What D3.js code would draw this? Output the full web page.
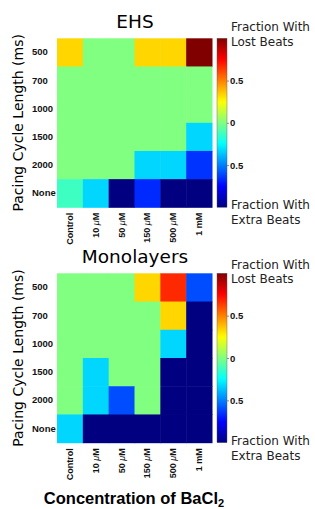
<!DOCTYPE html>
<html><head><meta charset="utf-8">
<script src="https://cdn.jsdelivr.net/npm/d3@7"></script>
<style>
html,body{margin:0;padding:0;background:#fff;}
svg{display:block;}
</style></head>
<body>
<svg id="c" width="315" height="509"></svg>
<script>
// ---- data ----
const concentrations = ["Control", "10 \u03bcM", "50 \u03bcM", "150 \u03bcM", "500 \u03bcM", "1 mM"];
const pacingCycles = ["500", "700", "1000", "1500", "2000", "None"];
// signed fraction: + = fraction with lost beats, - = fraction with extra beats
const ehsValues = [
  [0.33, 0, 0, 0.33, 0.33, 1.0],
  [0, 0, 0, 0, 0, 0],
  [0, 0, 0, 0, 0, 0],
  [0, 0, 0, 0, 0, -0.33],
  [0, 0, 0, -0.33, -0.33, -0.65],
  [-0.13, -0.33, -1.0, -0.67, -1.0, -1.0]
];
const monolayerValues = [
  [0, 0, 0, 0.33, 0.67, -0.6],
  [0, 0, 0, 0, 0.33, -1.0],
  [0, 0, 0, 0, -0.33, -1.0],
  [0, -0.33, 0, 0, -1.0, -1.0],
  [0, -0.33, -0.6, 0, -1.0, -1.0],
  [-0.33, -1.0, -1.0, -1.0, -1.0, -1.0]
];
const colorbarTicks = [0.5, 0, -0.5];
const colorbarTickLabels = ["0.5", "0", "0.5"];
const panelTitles = ["EHS", "Monolayers"];

// ---- jet colormap ----
function jet(t){
  const c = v => Math.max(0, Math.min(1, v));
  const r = c(1.5 - Math.abs(4*t - 3));
  const g = c(1.5 - Math.abs(4*t - 2));
  const b = c(1.5 - Math.abs(4*t - 1));
  return d3.rgb(r*255, g*255, b*255).formatHex();
}
const tScale = d3.scaleLinear().domain([-1, 1]).range([0, 1]).clamp(true);
const color = v => jet(tScale(v));

const svg = d3.select("#c");
const left = 57, width = 155;
const panels = [
  {title: panelTitles[0], values: ehsValues, top: 38.3, bottom: 207.3, titleY: 28,
   legTop: [30.7, 45.7], legBot: [209.3, 224]},
  {title: panelTitles[1], values: monolayerValues, top: 273.3, bottom: 442.7, titleY: 263.3,
   legTop: [269.3, 283.3], legBot: [445, 460]}
];

const defs = svg.append("defs");
const grad = defs.append("linearGradient").attr("id","jetgrad")
  .attr("x1",0).attr("y1",0).attr("x2",0).attr("y2",1);
d3.range(0, 1.0001, 0.02).forEach(s => {
  grad.append("stop").attr("offset", s).attr("stop-color", jet(1 - s));
});

const x = d3.scaleBand().domain(concentrations).range([left, left + width]);

panels.forEach(p => {
  const y = d3.scaleBand().domain(pacingCycles).range([p.top, p.bottom]);
  const g = svg.append("g");
  // cells
  p.values.forEach((row, i) => {
    g.selectAll(null).data(row).enter().append("rect")
      .attr("x", (d, j) => x(concentrations[j]))
      .attr("y", y(pacingCycles[i]))
      .attr("width", x.bandwidth() + 0.5)
      .attr("height", y.bandwidth() + 0.5)
      .attr("fill", d => color(d));
  });
  // title
  svg.append("text").attr("x", 135).attr("y", p.titleY)
    .attr("text-anchor","middle")
    .style("font-family","DejaVu Sans").style("font-size","18.5px")
    .text(p.title);
  // y axis
  const ya = svg.append("g").attr("transform",`translate(${left},0)`)
    .call(d3.axisLeft(y).tickSize(0));
  ya.select(".domain").remove();
  ya.selectAll("text").attr("x", 32 - left).attr("text-anchor","start")
    .style("font-family","Liberation Sans").style("font-weight","bold")
    .style("font-size","9.5px").attr("fill","#111");
  // y label
  const cy = (p.top + p.bottom) / 2;
  svg.append("text").attr("transform",`translate(23,${cy}) rotate(-90)`)
    .attr("text-anchor","middle")
    .style("font-family","DejaVu Sans").style("font-size","14px")
    .text("Pacing Cycle Length (ms)");
  // x axis
  const xa = svg.append("g").attr("transform",`translate(0,${p.bottom})`)
    .call(d3.axisBottom(x).tickSize(0));
  xa.select(".domain").remove();
  xa.selectAll("text")
    .attr("transform","rotate(-90)")
    .attr("x", -5.5).attr("y", 0).attr("dy","0.33em")
    .attr("text-anchor","end")
    .style("font-family","Liberation Sans").style("font-weight","bold")
    .style("font-size","9px").attr("fill","#111")
    .each(function(d){
      const t = d3.select(this); t.text(null);
      const m = d.match(/^(\d+) (\u03bc)(M)$/);
      if (m) {
        t.append("tspan").text(m[1] + " ");
        t.append("tspan").style("font-style","italic").style("font-weight","normal").text(m[2]);
        t.append("tspan").text(m[3]);
      } else t.text(d);
    });
  // colorbar
  const cb = d3.scaleLinear().domain([1, -1]).range([p.top, p.bottom]);
  svg.append("rect").attr("x", 217).attr("y", p.top).attr("width", 10)
    .attr("height", p.bottom - p.top).attr("fill","url(#jetgrad)")
    .attr("stroke","#555").attr("stroke-width",0.4);
  const ca = svg.append("g").attr("transform","translate(227,0)")
    .call(d3.axisRight(cb).tickValues(colorbarTicks).tickSize(2).tickPadding(1)
      .tickFormat((d,i) => colorbarTickLabels[i]));
  ca.select(".domain").remove();
  ca.selectAll("line").attr("stroke","#888");
  ca.selectAll("text").style("font-family","Liberation Sans").style("font-weight","bold")
    .style("font-size","9.5px").attr("fill","#111");
  // legend labels
  const lt = (yy, s) => svg.append("text").attr("x", 231).attr("y", yy)
    .style("font-family","DejaVu Sans").style("font-size","12px").attr("fill","#222").text(s);
  lt(p.legTop[0], "Fraction With"); lt(p.legTop[1], "Lost Beats");
  lt(p.legBot[0], "Fraction With"); lt(p.legBot[1], "Extra Beats");
});

// x label
const xl = svg.append("text").attr("x", 134).attr("y", 503.5).attr("text-anchor","middle")
  .style("font-family","Liberation Sans").style("font-weight","bold").style("font-size","16.5px");
xl.append("tspan").text("Concentration of BaCl");
xl.append("tspan").attr("dy", 3).style("font-size","11px").text("2");
</script>
</body></html>
